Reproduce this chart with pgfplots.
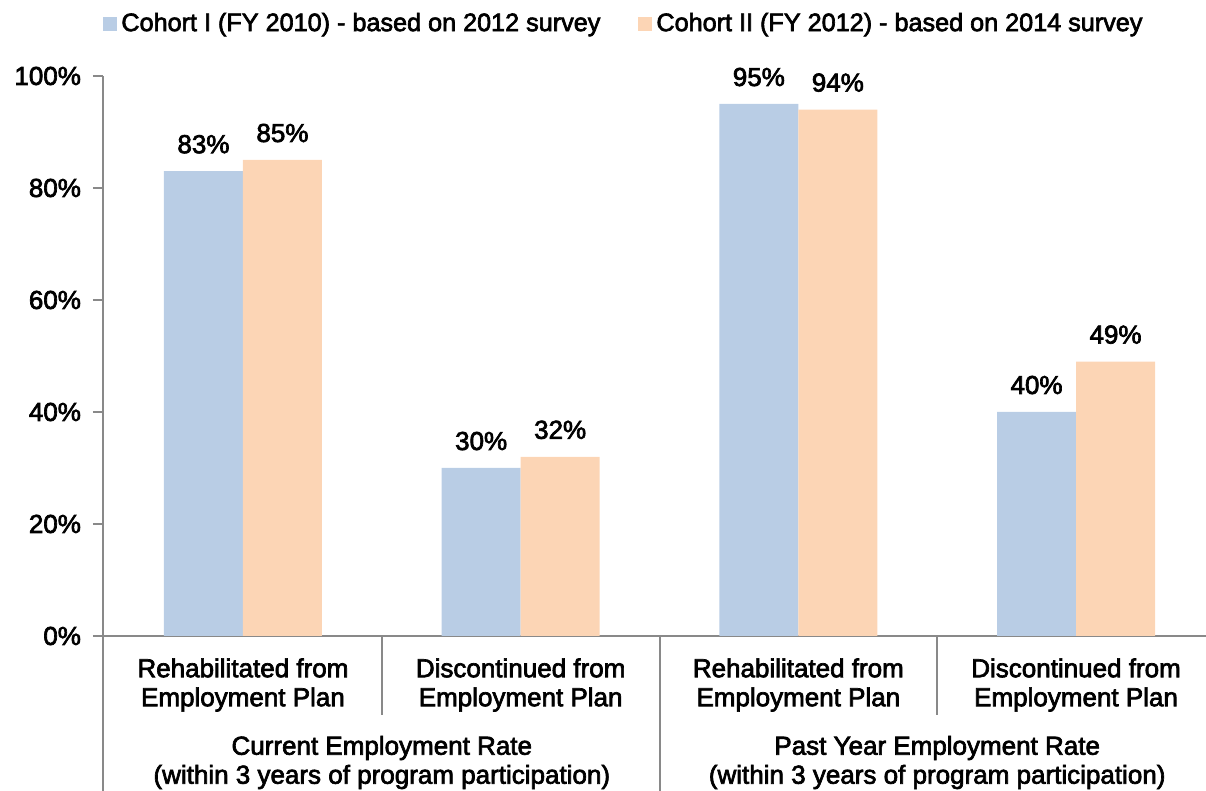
\documentclass[border=0pt]{standalone}
\usepackage{fontspec}
\setmainfont{Liberation Sans}[FakeBold=2.6]
\usepackage{pgfplots}
\pgfplotsset{compat=1.18}
\definecolor{cblue}{HTML}{B9CDE5}
\definecolor{cpeach}{HTML}{FCD5B5}
\definecolor{axgray}{HTML}{898989}
\begin{document}
\fontsize{13pt}{14.5pt}\selectfont
\begin{tikzpicture}
\useasboundingbox (0,0) rectangle (603pt,395.5pt);
\begin{axis}[
  at={(51.5pt,77.5pt)}, anchor=south west,
  scale only axis, width=551.5pt, height=280pt,
  xmin=-0.504, xmax=3.468, ymin=0, ymax=100,
  enlargelimits=false, clip=false,
  ybar=0pt, bar width=39.5pt,
  axis lines=left, axis line style={-, draw=axgray, line width=1pt},
  ytick={0,20,...,100},
  yticklabel={\pgfmathprintnumber{\tick}\%},
  yticklabel style={xshift=-1.5pt},
  /pgf/number format/assume math mode=true,
  y tick style={draw=axgray, line width=1pt},
  tick align=outside, major tick length=5pt,
  xtick={0,1,2,3},
  xticklabels={{Rehabilitated from\\Employment Plan},{Discontinued from\\Employment Plan},{Rehabilitated from\\Employment Plan},{Discontinued from\\Employment Plan}},
  x tick style={draw=none},
  xticklabel style={align=center, anchor=center, yshift=-19.5pt},
  nodes near coords={\pgfmathprintnumber{\pgfplotspointmeta}\%},
  nodes near coords style={anchor=base, inner sep=0pt, yshift=9pt, text=black},
  legend columns=2,
  legend style={at={(0.0,1.093)}, anchor=west, draw=none, fill=none, inner sep=0pt,
    font=\fontsize{12.6pt}{14pt}\selectfont,
    nodes={inner sep=1pt, anchor=west},
    /tikz/every odd column/.append style={column sep=1pt},
    /tikz/every even column/.append style={column sep=18pt}},
  legend cell align=left,
  legend image code/.code={\fill[#1] (0pt,-3.5pt) rectangle (7pt,3.5pt);},
]
\addplot[fill=cblue, draw=none] coordinates {(0,83) (1,30) (2,95) (3,40)};
\addplot[fill=cpeach, draw=none] coordinates {(0,85) (1,32) (2,94) (3,49)};
\legend{Cohort I (FY 2010) - based on 2012 survey, Cohort II (FY 2012) - based on 2014 survey}
\coordinate (o) at (axis cs:-0.504,0);
\coordinate (s1) at (axis cs:0.5,0);
\coordinate (s2) at (axis cs:1.5,0);
\coordinate (s3) at (axis cs:2.5,0);
\end{axis}
\draw[axgray, line width=1pt] (o) -- ++(0,-77.5pt);
\draw[axgray, line width=1pt] (s1) -- ++(0,-39.5pt);
\draw[axgray, line width=1pt] (s2) -- ++(0,-77.5pt);
\draw[axgray, line width=1pt] (s3) -- ++(0,-39.5pt);
\node[align=center] at ([yshift=-63.25pt]s1) {Current Employment Rate\\(within 3 years of program participation)};
\node[align=center] at ([yshift=-63.25pt]s3) {Past Year Employment Rate\\(within 3 years of program participation)};
\end{tikzpicture}
\end{document}
